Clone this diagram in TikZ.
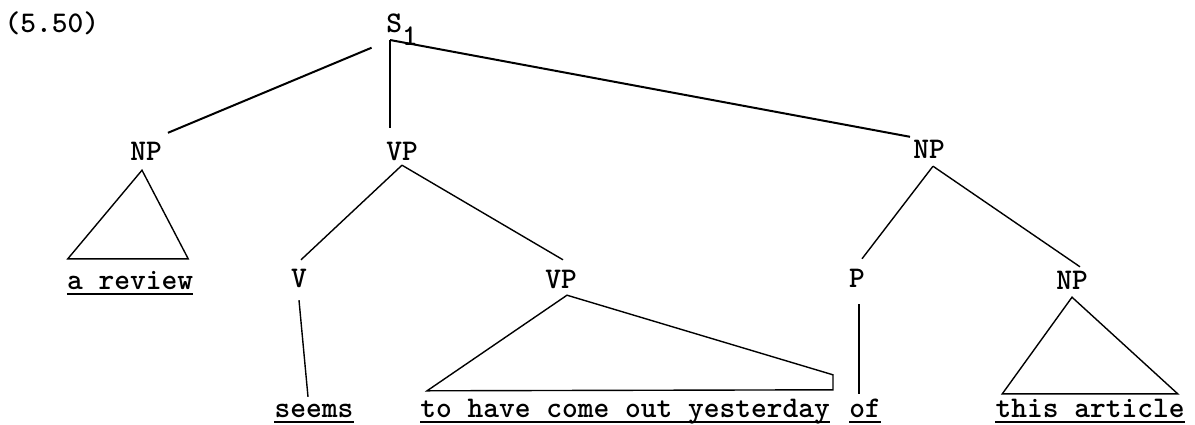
\documentclass[tikz,border=0pt]{standalone}

\begin{document}
\begin{tikzpicture}[
    x=1pt, y=-1pt,
    cat/.style={inner sep=0pt, text height=18pt, text depth=5pt, anchor=base, font=\fontsize{30}{36}\selectfont\ttfamily\bfseries},
    word/.style={cat},
    trunk/.style={line width=2pt},
    branch/.style={line width=1.4pt},
    uline/.style={line width=1.7pt}
]
\useasboundingbox (0,0) rectangle (1195,424);

% Example number
\node[cat] (exno) at (52,32) {(5.50)};

% Category labels
\node[cat] (s1) at (402,32) {S\raisebox{-13pt}{1}};
\node[cat] (np1) at (146,160) {NP};
\node[cat] (vp1) at (402,160) {VP};
\node[cat] (np2) at (929,158) {NP};
\node[cat] (v) at (299,287) {V};
\node[cat] (vp2) at (561,288) {VP};
\node[cat] (p) at (857,287) {P};
\node[cat] (np3) at (1072,289) {NP};

% Words
\node[word] (rev) at (130,289) {a review};
\node[word] (seems) at (314,417) {seems};
\node[word] (yest) at (625,417) {to have come out yesterday};
\node[word] (of) at (865,417) {of};
\node[word] (art) at (1090,417) {this article};

\coordinate (top) at ([xshift=4pt,yshift=-8pt]s1.base west);

% Top level
\draw[trunk, shorten <=20pt] (top) -- ([xshift=6pt,yshift=9pt]np1.north east);
\draw[trunk, shorten >=14pt] (top) -- (top |- vp1.north);
\draw[trunk] (top) -- ([xshift=-3pt,yshift=3pt]np2.north west);

% Branches
\draw[branch] (vp1.south) -- ([xshift=2pt,yshift=9pt]v.north);
\draw[branch] (vp1.south) -- ([xshift=2pt,yshift=10pt]vp2.north);
\draw[branch] ([xshift=4pt,yshift=-3pt]np2.south) -- ([xshift=5pt,yshift=10pt]p.north);
\draw[branch] ([xshift=4pt,yshift=-3pt]np2.south) -- ([xshift=8pt,yshift=4pt]np3.north);
\draw[branch] ([yshift=-8pt]v.south) -- ([xshift=-6pt,yshift=2pt]seems.north);
\draw[branch] ([xshift=2pt,yshift=-12pt]p.south) -- ([xshift=-6pt,yshift=5pt]of.north);

% Triangles
\draw[branch] ([xshift=-4pt,yshift=-5pt]np1.south) -- ([xshift=1pt,yshift=12pt]rev.north west)
    -- ([xshift=-5pt,yshift=12pt]rev.north east) -- cycle;
\draw[branch] ([xshift=6pt,yshift=-2pt]vp2.south) -- ([xshift=3pt,yshift=24pt]yest.north east)
    -- ([xshift=3pt,yshift=9pt]yest.north east) -- ([xshift=7pt,yshift=8pt]yest.north west) -- cycle;
\draw[branch] ([yshift=-3pt]np3.south) -- ([xshift=7pt,yshift=5pt]art.north west)
    -- ([xshift=-7pt,yshift=5pt]art.north east) -- cycle;

% Underlines
\foreach \w in {rev, seems, yest, of, art}
  \draw[uline] (\w.south west) -- (\w.south east);

\end{tikzpicture}
\end{document}
